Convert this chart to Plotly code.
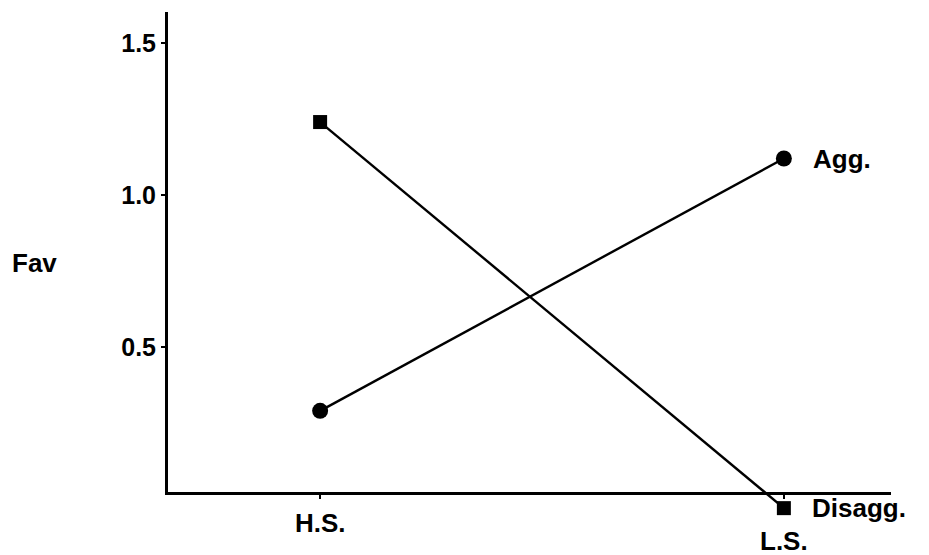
import plotly.graph_objects as go

categories = ["H.S.", "L.S."]
agg = [0.29, 1.12]
disagg = [1.24, -0.03]
y_ticks = [0.5, 1.0, 1.5]
y_tick_labels = ["0.5", "1.0", "1.5"]

FONT = "Liberation Sans, Arial, sans-serif"
TXT = dict(family=FONT, size=26, color="black")

fig = go.Figure()
# Disagg. dips below the x axis line, so it lives on an invisible y axis
# with the same pixel scale but a domain that reaches further down.
fig.add_trace(go.Scatter(
    x=categories, y=disagg, mode="lines+markers", xaxis="x", yaxis="y2",
    line=dict(color="black", width=2.4),
    marker=dict(symbol="square", size=14, color="black"),
    cliponaxis=False, showlegend=False, hoverinfo="skip"))
fig.add_trace(go.Scatter(
    x=categories, y=agg, mode="lines+markers", xaxis="x", yaxis="y",
    line=dict(color="black", width=2.4),
    marker=dict(symbol="circle", size=16, color="black"),
    cliponaxis=False, showlegend=False, hoverinfo="skip"))

fig.update_layout(
    xaxis=dict(
        type="category", range=[-0.328, 1.231], anchor="y",
        showline=True, linecolor="black", linewidth=3,
        showgrid=False, zeroline=False,
        tickvals=categories, ticktext=["", ""],
        ticks="outside", ticklen=4, tickwidth=2, tickcolor="black"),
    yaxis=dict(
        domain=[28 / 508, 1], range=[0.023, 1.602], anchor="x",
        showline=True, linecolor="black", linewidth=3,
        showgrid=False, zeroline=False,
        tickvals=y_ticks, ticktext=["<b>%s</b>" % t for t in y_tick_labels],
        ticks="outside", ticklen=4, tickwidth=2, tickcolor="black",
        tickfont=dict(family=FONT, size=25, color="black")),
    yaxis2=dict(
        domain=[0, 1], range=[-0.069, 1.602], anchor="x", visible=False),
)

annotations = [
    dict(x=categories[0], xref="x", y=0, yref="paper", text="<b>H.S.</b>",
         showarrow=False, yanchor="middle", yshift=-3, font=TXT),
    dict(x=categories[1], xref="x", y=0, yref="paper", text="<b>L.S.</b>",
         showarrow=False, yanchor="middle", yshift=-21, font=TXT),
    dict(x=categories[1], xref="x", y=agg[1], yref="y", text="<b>Agg.</b>",
         showarrow=False, xanchor="left", xshift=27, font=TXT),
    dict(x=categories[1], xref="x", y=disagg[1], yref="y2", text="<b>Disagg.</b>",
         showarrow=False, xanchor="left", xshift=26, font=TXT),
    dict(xref="paper", yref="paper", x=-0.184, y=0.506, text="<b>Fav</b>",
         showarrow=False, xanchor="center", yanchor="middle", font=TXT),
]

fig.update_layout(
    width=929, height=555,
    margin=dict(l=168, r=38, t=12, b=35),
    plot_bgcolor="rgba(0,0,0,0)", paper_bgcolor="white",
    annotations=annotations)

fig.write_html("out.html", config={"displayModeBar": False},
               post_script="document.body.style.margin='0';")
